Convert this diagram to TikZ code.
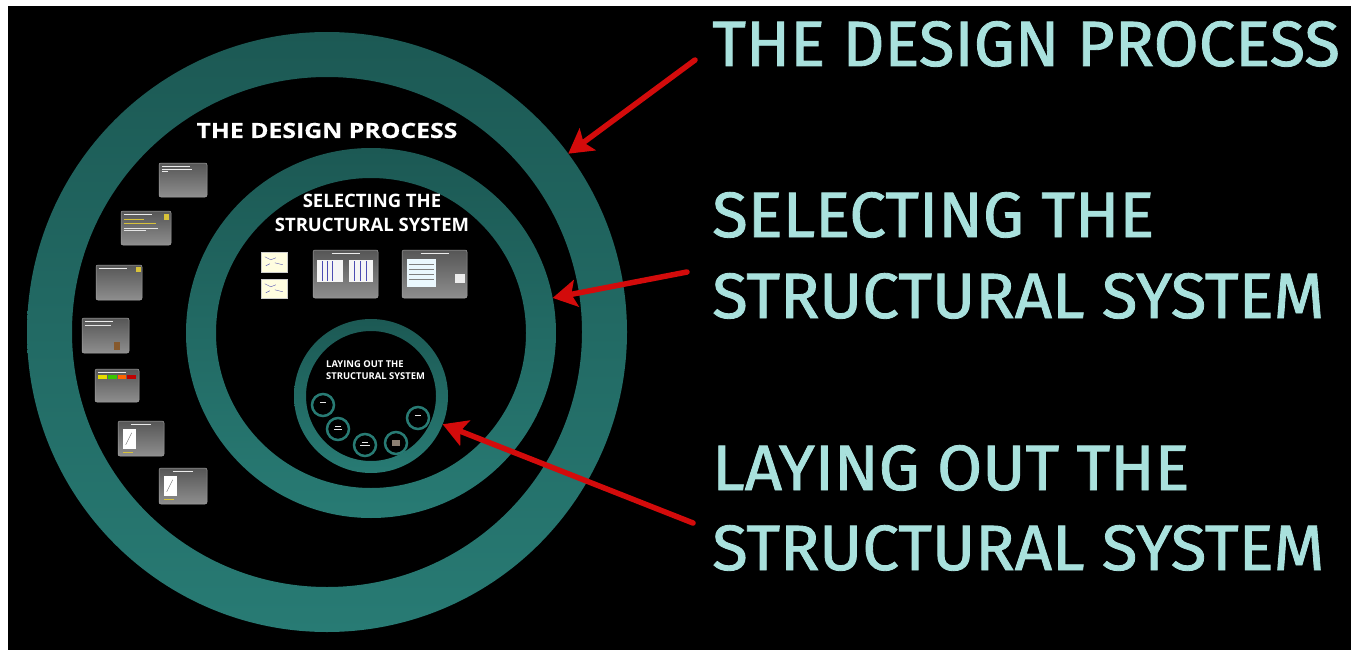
\documentclass[tikz,border=0pt]{standalone}
\usepackage{fontspec}
\usepackage{tikz}
\usetikzlibrary{arrows.meta, calc}
\newfontfamily\bigfont{Fira Sans}[FakeBold=1.3, FakeStretch=1.02]
\newfontfamily\slidefont{Open Sans}
\newfontfamily\slidewide{Open Sans}[FakeStretch=1.18, FakeBold=0.6]
\definecolor{ringdark}{HTML}{1C5954}
\definecolor{ringlight}{HTML}{287B74}
\definecolor{titlecyan}{HTML}{A9E1DD}
\definecolor{arrowred}{HTML}{D30B0B}
\definecolor{slidetop}{HTML}{565656}
\definecolor{slidebot}{HTML}{8E8E8E}
\definecolor{slideyellow}{HTML}{D8C23A}

\begin{document}
\begin{tikzpicture}[x=1pt, y=-1pt,
	ring/.style={top color=ringdark, bottom color=ringlight, even odd rule},
	slide/.style={rectangle, rounded corners=2pt, draw=gray!70, line width=0.5pt, top color=slidetop, bottom color=slidebot, inner sep=0},
	thumb/.style={rectangle, draw=gray!40, fill=white!88!yellow, inner sep=0},
	bigtitle/.style={anchor=base west, inner sep=0, text=titlecyan, font=\bigfont\fontsize{64}{70}\selectfont},
	whitetitle/.style={anchor=base, inner sep=0, text=white, font=\slidefont\bfseries},
	pointer/.style={draw=arrowred, line width=5.5pt, line cap=round, -{Stealth[length=24pt, width=27pt, inset=5pt]}}]
	\useasboundingbox (0,0) rectangle (1351,650);
	\fill[white] (0,0) rectangle (1351,650);
	\fill[black] (8,6) rectangle (1351,650);
	
	% the three rings
	\shade[ring] (327,332) circle (300) (327,332) circle (255);
	\shade[ring] (371,333) circle (185) (371,333) circle (155);
	\shade[ring] (371,396) circle (77) (371,396) circle (65);
	\begin{scope}[every node/.style={circle, inner sep=0, outer sep=0}]
	\node[minimum size=600] (r0) at (327,332) {};
	\node[minimum size=370] (r1) at (371,333) {};
	\node[minimum size=154] (r2) at (371,396) {};
	\end{scope}
	
	% titles inside the rings
	\node[whitetitle, font=\slidewide\bfseries\fontsize{21}{22}\selectfont] (d0) at (327,138) {THE DESIGN PROCESS};
	\node[whitetitle, font=\slidefont\bfseries\fontsize{18.5}{20}\selectfont] (d1) at (372,207) {SELECTING THE};
	\node[whitetitle, font=\slidefont\bfseries\fontsize{18.5}{20}\selectfont] (d2) at (372,231) {STRUCTURAL SYSTEM};
	\node[whitetitle, anchor=base west, font=\slidefont\bfseries\fontsize{9.4}{10}\selectfont] (d3) at (326,367) {LAYING OUT THE};
	\node[whitetitle, anchor=base west, font=\slidefont\bfseries\fontsize{9.4}{10}\selectfont] (d4) at (326,379) {STRUCTURAL SYSTEM};
	
	% slides of the outer ring
	\node[slide, minimum width=48, minimum height=34] (s0) at (183,180) {};
	\node[slide, minimum width=50, minimum height=34] (s1) at (146,228) {};
	\node[slide, minimum width=46, minimum height=35] (s2) at (119,282.5) {};
	\node[slide, minimum width=47, minimum height=35] (s3) at (105.5,335.5) {};
	\node[slide, minimum width=44, minimum height=33] (s4) at (117,385.5) {};
	\node[slide, minimum width=46, minimum height=35] (s5) at (141,438.5) {};
	\node[slide, minimum width=48, minimum height=36] (s6) at (183,486) {};
	\foreach \s in {s0,s1,s2,s3,s4}
		\draw[white!85!gray, line width=0.8pt] ($(\s.north west)+(3,4)$) -- ++(28,0);
	\draw[white!85!gray, line width=0.6pt] ($(s0.north west)+(3,6.5)$) -- ++(30,0) ($(s0.north west)+(3,9)$) -- ++(6,0);
	\fill[slideyellow] ($(s1.north east)+(-7,3)$) rectangle ++(5,6);
	\draw[slideyellow, line width=0.6pt] ($(s1.north west)+(3,9)$) -- ++(20,0) ($(s1.north west)+(3,13)$) -- ++(32,0);
	\draw[white!80!gray, line width=0.5pt] ($(s1.north west)+(3,17)$) -- ++(34,0) ($(s1.north west)+(3,19.5)$) -- ++(22,0);
	\fill[slideyellow] ($(s2.north east)+(-6,2)$) rectangle ++(5,5);
	\draw[white!80!gray, line width=0.5pt] ($(s3.north west)+(3,7.5)$) -- ++(26,0);
	\fill[brown!70!black] ($(s3.south east)+(-9,-3)$) rectangle ++(-6,-8);
	\fill[yellow!80!olive] ($(s4.north west)+(3,6)$) rectangle ++(9,4);
	\fill[green!55!olive] ($(s4.north west)+(13,6)$) rectangle ++(9,4);
	\fill[orange!80!red] ($(s4.north west)+(23,6)$) rectangle ++(8,4);
	\fill[red!75!black] ($(s4.north west)+(32,6)$) rectangle ++(9,4);
	\foreach \s in {s5,s6} {
		\draw[white!85!gray, line width=0.6pt] ($(\s.north)+(-10,4)$) -- ++(20,0);
		\fill[white] ($(\s.north west)+(5,8)$) rectangle ++(13,20);
		\draw[gray!70!black, line width=0.4pt] ($(\s.north west)+(8,24)$) -- ++(6,-12);
		\draw[slideyellow, line width=0.5pt] ($(\s.north west)+(5,31)$) -- ++(10,0);
	}
	
	% slides of the middle ring
	\node[thumb, minimum width=26, minimum height=20] (m0) at (274,262) {};
	\node[thumb, minimum width=26, minimum height=19] (m1) at (274,288.5) {};
	\node[slide, minimum width=65, minimum height=48] (g0) at (345.5,274) {};
	\node[slide, minimum width=65, minimum height=48] (g1) at (434.5,274) {};
	\foreach \m in {m0,m1}
		\draw[blue!40!gray, line width=0.4pt] ($(\m.north west)+(4,5)$) -- ++(6,3) -- ++(5,-2) ($(\m.north west)+(14,11)$) -- ++(8,2) ($(\m.north west)+(5,14)$) -- ++(4,-2);
	\foreach \g in {g0,g1}
		\draw[white!85!gray, line width=0.6pt] ($(\g.north)+(-14,3.5)$) -- ++(28,0);
	\fill[white!92!gray] ($(g0.north west)+(4,10)$) rectangle ++(26,22);
	\fill[white!92!gray] ($(g0.north west)+(36,10)$) rectangle ++(24,22);
	\foreach \x in {9,14,19,41,47,53}
		\draw[gray!60!blue, line width=0.5pt] ($(g0.north west)+(\x,11)$) -- ++(0,20);
	\fill[white!92!cyan] ($(g1.north west)+(5,9)$) rectangle ++(29,28);
	\fill[white!85!gray] ($(g1.north east)+(-12,24)$) rectangle ++(10,9);
	\foreach \y in {14,19,24,29}
		\draw[gray, line width=0.4pt] ($(g1.north west)+(7,\y)$) -- ++(25,0);
	
	% circles of the inner ring
	\begin{scope}[every node/.style={circle, draw=ringlight, line width=2.5pt, fill=black, minimum size=22, inner sep=0}]
	\node (l0) at (323,405) {};
	\node (l1) at (338,429) {};
	\node (l2) at (365,445) {};
	\node (l3) at (396,443) {};
	\node (l4) at (418,418) {};
	\end{scope}
	\foreach \l in {l0,l1,l2,l4}
		\draw[white!80!gray, line width=0.4pt] ($(\l.center)+(-3,-3)$) -- ++(6,0);
	\draw[white!80!gray, line width=0.4pt] ($(l1.center)+(-4,0)$) -- ++(8,0) ($(l2.center)+(-5,0)$) -- ++(10,0);
	\fill[gray!80!brown] ($(l3.center)+(-4,-3)$) rectangle ++(8,6);
	
	% captions on the right
	\node[bigtitle] (t0) at (712,66) {THE DESIGN PROCESS};
	\node[bigtitle] (t1) at (712,237) {SELECTING THE};
	\node[bigtitle] (t2) at (712,318) {STRUCTURAL SYSTEM};
	\node[bigtitle] (t3) at (712,490) {LAYING OUT THE};
	\node[bigtitle] (t4) at (712,570) {STRUCTURAL SYSTEM};
	
	\coordinate (a0) at (695,60);
	\coordinate (a1) at (687,272);
	\coordinate (a2) at (693,523);
	\draw[pointer] (a0) -- (r0);
	\draw[pointer] (a1) -- (r1);
	\draw[pointer] (a2) -- (r2);
\end{tikzpicture}
\end{document}
